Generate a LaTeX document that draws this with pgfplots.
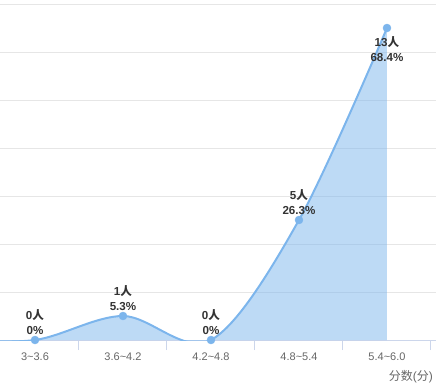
\documentclass[border=0pt]{standalone}
\usepackage{pgfplots}
\pgfplotsset{compat=1.18}
\usepackage{pgfplotstable}
\usepackage{fontspec}
\setmainfont{Liberation Sans}
\newfontfamily\cjk{Noto Sans CJK SC}
\definecolor{ser}{HTML}{7CB5EC}
\definecolor{gridc}{HTML}{E6E6E6}
\definecolor{axl}{HTML}{CCD6EB}
\definecolor{lbl}{HTML}{333333}
\definecolor{tickc}{HTML}{666666}
\pgfplotstableread{
x y
-1 0
0 0
1 1
2 0
3 5
4 13
}\curvedata
\pgfplotstableread{
x y pct
0 0 0
1 1 5.3
2 0 0
3 5 26.3
}\ptsA
\pgfplotstableread{
x y pct
4 13 68.4
}\ptsB
\pgfplotsset{
  lblpts/.style={only marks, color=ser, mark=*, mark size=4pt, mark options={fill=ser, draw=none},
    point meta=\thisrow{pct},
    visualization depends on={rawy\as\cnt},
    nodes near coords={\pgfmathprintnumber[assume math mode=true]{\cnt}{\cjk 人}\\\pgfmathprintnumber[assume math mode=true]{\pgfplotspointmeta}\%},
    every node near coord/.append style={align=center,
      font=\bfseries\fontsize{11.6}{15}\selectfont, text=lbl, inner sep=1pt}},
}
\begin{document}
\begin{tikzpicture}
\begin{axis}[
  at={(0,48pt)}, anchor=south west,
  scale only axis, width=436pt, height=340pt,
  xmin=-0.3977, xmax=4.557, ymin=0, ymax=14.167,
  axis x line*=bottom, axis y line*=left,
  x axis line style={draw=axl, line width=1pt, -},
  y axis line style={draw=none},
  xtick={0,1,2,3,4},
  xticklabels={3\textasciitilde 3.6,3.6\textasciitilde 4.2,4.2\textasciitilde 4.8,4.8\textasciitilde 5.4,5.4\textasciitilde 6.0},
  major x tick style={draw=none},
  minor xtick={0.5,1.5,2.5,3.5,4.5},
  minor x tick style={draw=axl, line width=1pt},
  minor tick length=10pt,
  tick align=outside,
  ytick={0,2,...,14}, yticklabels={}, major y tick style={draw=none},
  ymajorgrids, grid style={draw=gridc, line width=1pt},
  xticklabel style={font=\fontsize{11}{13}\selectfont, text=tickc, yshift=-5pt},
  xlabel={{\cjk 分数}({\cjk 分})},
  xlabel style={at={(rel axis cs:1,0)}, anchor=north east, xshift=-3pt, yshift=-30pt,
    font=\fontsize{12}{14}\selectfont, text=tickc, inner sep=0pt},
]
\addplot[draw=none, fill=ser, fill opacity=0.5, smooth, tension=0.55] table[x=x,y=y]{\curvedata} \closedcycle;
\addplot[draw=ser, line width=2pt, smooth, tension=0.55] table[x=x,y=y]{\curvedata};
\addplot[lblpts, every node near coord/.append style={anchor=south, yshift=4pt}] table[x=x,y=y]{\ptsA};
\addplot[lblpts, every node near coord/.append style={anchor=north, yshift=-7pt}] table[x=x,y=y]{\ptsB};
\end{axis}
\pgfresetboundingbox
\path[use as bounding box] (0,0) rectangle (436pt,388pt);
\end{tikzpicture}
\end{document}
